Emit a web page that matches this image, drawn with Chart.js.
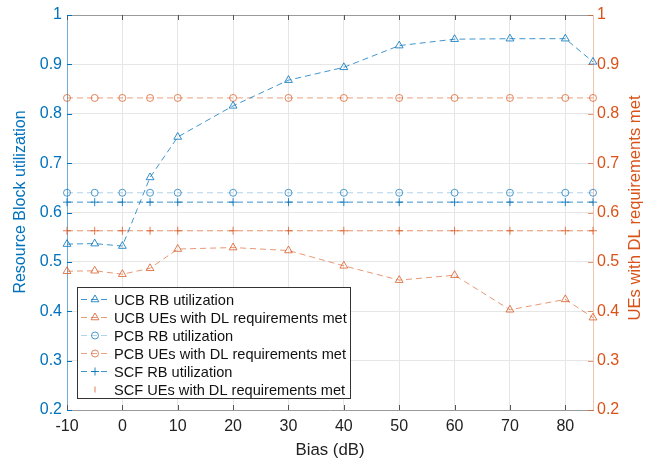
<!DOCTYPE html>
<html>
<head>
<meta charset="utf-8">
<script src="https://cdn.jsdelivr.net/npm/chart.js@4.4.1/dist/chart.umd.min.js"></script>
<style>
  html, body { margin: 0; padding: 0; background: #fff; }
  #wrap { width: 654px; height: 462px; }
</style>
</head>
<body>
<div id="wrap"><canvas id="myChart" width="654" height="462"></canvas></div>
<script>
// data
const biasDb = [-10, -5, 0, 5, 10, 20, 30, 40, 50, 60, 70, 80, 85];
const ucbRbUtil = [0.536, 0.537, 0.532, 0.671, 0.753, 0.816, 0.868, 0.894, 0.938, 0.951, 0.952, 0.952, 0.905];
const ucbUesMet = [0.481, 0.482, 0.475, 0.487, 0.526, 0.529, 0.523, 0.492, 0.463, 0.473, 0.403, 0.424, 0.387];
const pcbRbUtil = [0.640, 0.640, 0.640, 0.640, 0.640, 0.640, 0.640, 0.640, 0.640, 0.640, 0.640, 0.640, 0.640];
const pcbUesMet = [0.832, 0.832, 0.832, 0.832, 0.832, 0.832, 0.832, 0.832, 0.832, 0.832, 0.832, 0.832, 0.832];
const scfRbUtil = [0.621, 0.621, 0.621, 0.621, 0.621, 0.621, 0.621, 0.621, 0.621, 0.621, 0.621, 0.621, 0.621];
const scfUesMet = [0.563, 0.563, 0.563, 0.563, 0.563, 0.563, 0.563, 0.563, 0.563, 0.563, 0.563, 0.563, 0.563];
const xTicks = [-10, 0, 10, 20, 30, 40, 50, 60, 70, 80];
const yTicks = [0.2, 0.3, 0.4, 0.5, 0.6, 0.7, 0.8, 0.9, 1];
const seriesNames = [
  "UCB RB utilization",
  "UCB UEs with DL requirements met",
  "PCB RB utilization",
  "PCB UEs with DL requirements met",
  "SCF RB utilization",
  "SCF UEs with DL requirements met",
];

const BLUE = "#0072BD";
const ORANGE = "#D95319";
const FONT = "'Liberation Sans', Arial, Helvetica, sans-serif";

function pts(values) {
  return values.map((v, i) => ({ x: biasDb[i], y: v }));
}

function series(label, values, axis, color, lineColor, style, radius) {
  return {
    label: label,
    data: pts(values),
    yAxisID: axis,
    borderColor: lineColor,
    backgroundColor: "rgba(0,0,0,0)",
    borderWidth: 1,
    borderDash: [6, 4],
    pointStyle: style,
    pointRadius: radius,
    pointBorderColor: color,
    pointBackgroundColor: "rgba(0,0,0,0)",
    pointBorderWidth: 1,
    tension: 0,
    clip: false,
  };
}

const datasets = [
  series(seriesNames[0], ucbRbUtil, "y", "rgba(0,114,189,0.8)", "rgba(0,114,189,0.75)", "triangle", 4.5),
  series(seriesNames[1], ucbUesMet, "y2", "rgba(217,83,25,0.75)", "rgba(217,83,25,0.6)", "triangle", 4.5),
  series(seriesNames[2], pcbRbUtil, "y", "rgba(0,114,189,0.7)", "rgba(0,114,189,0.3)", "circle", 3.5),
  series(seriesNames[3], pcbUesMet, "y2", "rgba(217,83,25,0.7)", "rgba(217,83,25,0.55)", "circle", 3.5),
  series(seriesNames[4], scfRbUtil, "y", "rgba(0,114,189,0.85)", "rgba(0,114,189,0.75)", "cross", 4),
  series(seriesNames[5], scfUesMet, "y2", "rgba(217,83,25,0.75)", "rgba(217,83,25,0.65)", "cross", 4),
];

function drawMarker(ctx, style, x, y, r, color) {
  ctx.save();
  ctx.strokeStyle = color;
  ctx.lineWidth = 1;
  ctx.setLineDash([]);
  ctx.beginPath();
  if (style === "triangle") {
    for (let k = 0; k < 3; k++) {
      const a = k * 2 * Math.PI / 3;
      const px = x + Math.sin(a) * r, py = y - Math.cos(a) * r;
      if (k === 0) ctx.moveTo(px, py); else ctx.lineTo(px, py);
    }
    ctx.closePath();
  } else if (style === "circle") {
    ctx.arc(x, y, r, 0, Math.PI * 2);
  } else if (style === "cross") {
    ctx.moveTo(x - r, y); ctx.lineTo(x + r, y);
    ctx.moveTo(x, y - r); ctx.lineTo(x, y + r);
  } else if (style === "tick") {
    ctx.moveTo(x, y - r); ctx.lineTo(x, y + r);
  }
  ctx.stroke();
  ctx.restore();
}

function verticalText(ctx, text, x, y, size, color) {
  ctx.save();
  ctx.translate(x, y);
  ctx.rotate(-Math.PI / 2);
  ctx.font = size + "px " + FONT;
  ctx.fillStyle = color;
  ctx.textAlign = "center";
  ctx.textBaseline = "middle";
  ctx.fillText(text, 0, 0);
  ctx.restore();
}

// MATLAB-ish frame: top border, inward ticks, legend box, y titles
const frame = {
  id: "frame",
  afterDraw(chart) {
    const ctx = chart.ctx;
    const a = chart.chartArea;
    const xs = chart.scales.x, yl = chart.scales.y, yr = chart.scales.y2;
    ctx.save();
    // top border
    ctx.strokeStyle = "#9a9a9a";
    ctx.lineWidth = 1;
    ctx.beginPath();
    ctx.moveTo(a.left, a.top + 0.5);
    ctx.lineTo(a.right, a.top + 0.5);
    ctx.stroke();
    // inward x ticks
    ctx.strokeStyle = "#555";
    xTicks.forEach((t) => {
      const px = Math.round(xs.getPixelForValue(t)) + 0.5;
      ctx.beginPath();
      ctx.moveTo(px, a.bottom); ctx.lineTo(px, a.bottom - 5);
      ctx.moveTo(px, a.top); ctx.lineTo(px, a.top + 5);
      ctx.stroke();
    });
    // inward y ticks
    yTicks.forEach((t) => {
      const py = Math.round(yl.getPixelForValue(t)) + 0.5;
      ctx.strokeStyle = BLUE;
      ctx.beginPath(); ctx.moveTo(a.left, py); ctx.lineTo(a.left + 5, py); ctx.stroke();
      const pr = Math.round(yr.getPixelForValue(t)) + 0.5;
      ctx.strokeStyle = "rgba(217,83,25,0.6)";
      ctx.beginPath(); ctx.moveTo(a.right, pr); ctx.lineTo(a.right - 5, pr); ctx.stroke();
    });

    // legend
    const bx = 77.5, by = 287.5, bw = 273, bh = 111;
    ctx.fillStyle = "#fff";
    ctx.fillRect(bx, by, bw, bh);
    ctx.strokeStyle = "#333";
    ctx.strokeRect(bx, by, bw, bh);
    ctx.font = "14.6px " + FONT;
    ctx.textBaseline = "middle";
    ctx.textAlign = "left";
    datasets.forEach((ds, i) => {
      const ry = Math.round(299 + i * 17.9) + 0.5;
      const col = ds.pointBorderColor;
      if (i < 5) {
        ctx.strokeStyle = ds.borderColor;
        ctx.setLineDash([6, 4]);
        ctx.beginPath(); ctx.moveTo(81, ry); ctx.lineTo(109, ry); ctx.stroke();
        ctx.setLineDash([]);
        drawMarker(ctx, ds.pointStyle, 95, ry, ds.pointRadius, col);
      } else {
        drawMarker(ctx, "tick", 95, ry, 3, col);
      }
      ctx.fillStyle = "#111";
      ctx.fillText(ds.label, 114, ry + 1);
    });
    ctx.restore();

    // y titles, both reading bottom to top
    verticalText(ctx, "Resource Block utilization", 21, 202, 16, BLUE);
    verticalText(ctx, "UEs with DL requirements met", 635, 208, 16.6, ORANGE);
  },
};

const ctx = document.getElementById("myChart").getContext("2d");
const myChart = new Chart(ctx, {
  type: "line",
  data: { datasets: datasets },
  options: {
    responsive: false,
    animation: false,
    devicePixelRatio: 1,
    layout: { padding: { top: 15, left: 0, right: 0, bottom: 0 } },
    plugins: {
      legend: { display: false },
      tooltip: { enabled: false },
    },
    scales: {
      x: {
        type: "linear",
        min: -10,
        max: 85,
        afterBuildTicks: (s) => { s.ticks = xTicks.map((v) => ({ value: v })); },
        afterFit: (s) => { s.height = 52; },
        grid: { color: "#e6e6e6", drawTicks: false },
        border: { color: "#9a9a9a", width: 1 },
        ticks: {
          padding: 7,
          maxRotation: 0,
          color: "#222",
          font: { family: FONT, size: 16 },
        },
        title: {
          display: true,
          text: "Bias (dB)",
          color: "#222",
          font: { family: FONT, size: 16.8 },
          padding: { top: 0, bottom: 2 },
        },
      },
      y: {
        position: "left",
        min: 0.2,
        max: 1,
        afterBuildTicks: (s) => { s.ticks = yTicks.map((v) => ({ value: v })); },
        afterFit: (s) => { s.width = 67; },
        grid: { color: "#e6e6e6", drawTicks: false },
        border: { color: "rgba(0,114,189,0.5)", width: 1 },
        ticks: {
          padding: 5,
          color: BLUE,
          font: { family: FONT, size: 16 },
          callback: (v) => String(Number(v.toFixed(1))),
        },
      },
      y2: {
        position: "right",
        min: 0.2,
        max: 1,
        afterBuildTicks: (s) => { s.ticks = yTicks.map((v) => ({ value: v })); },
        afterFit: (s) => { s.width = 61; },
        grid: { drawOnChartArea: false, drawTicks: false },
        border: { color: "rgba(217,83,25,0.35)", width: 1 },
        ticks: {
          padding: 4,
          color: ORANGE,
          font: { family: FONT, size: 16 },
          callback: (v) => String(Number(v.toFixed(1))),
        },
      },
    },
  },
  plugins: [frame],
});
</script>
</body>
</html>
